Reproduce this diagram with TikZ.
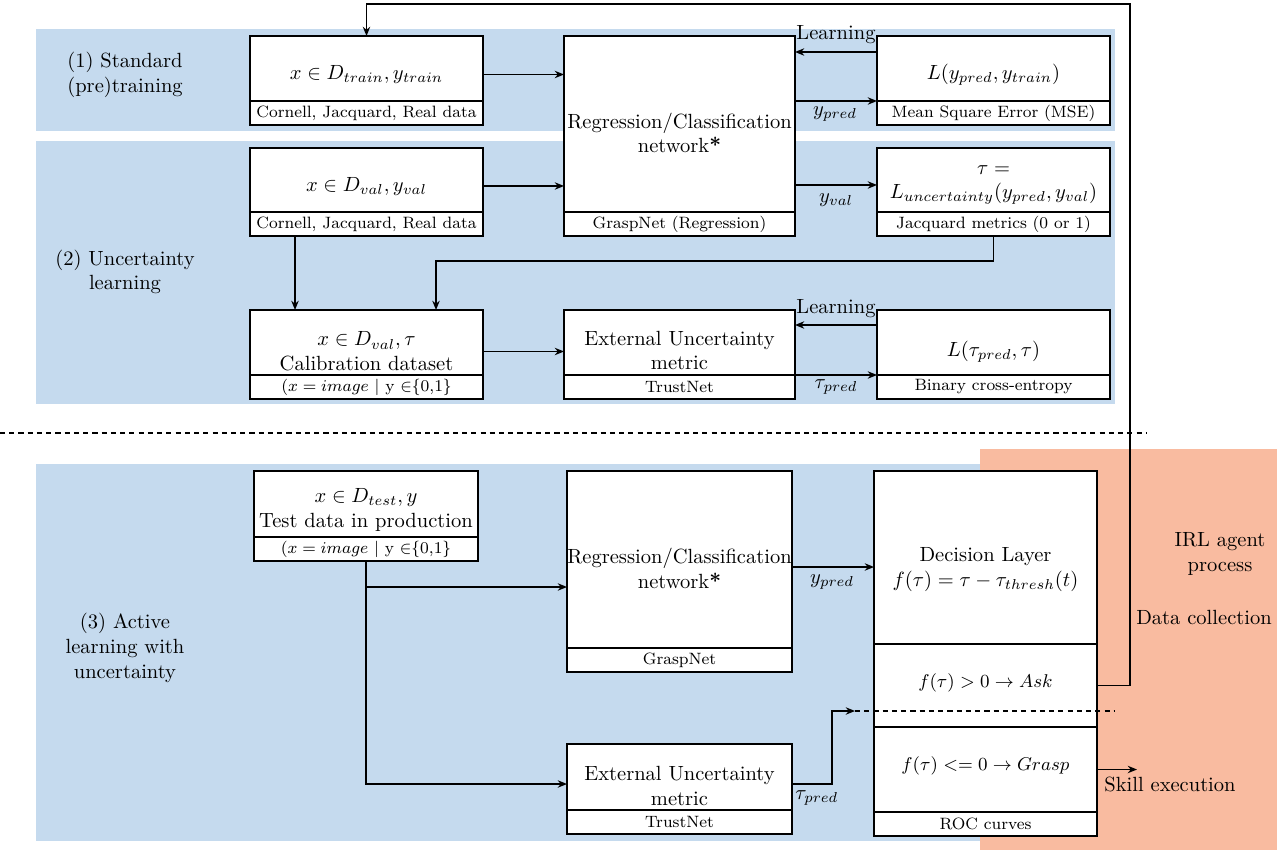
\documentclass[tikz,border=0pt]{standalone}
\usetikzlibrary{arrows.meta}
\newcommand{\U}{0.487pt}
\definecolor{bandblue}{RGB}{197,218,238}
\definecolor{irlorange}{RGB}{249,187,160}
% #1 name, #2 x, #3 y, #4 w, #5 htop, #6 hbot, #7 main text, #8 sub text, #9 text shift (px)
\newcommand{\pbox}[9]{%
  \node[part, minimum width=#4*\U, minimum height=#5*\U] (#1) at (#2,#3) {};
  \node[txt] (#1t) at ([yshift=-#9*\U]#1.center) {#7};
  \node[part, font=\footnotesize, minimum width=#4*\U, minimum height=#6*\U, anchor=north] (#1s) at (#1.south) {#8};
}
\begin{document}
\begin{tikzpicture}[x=0.487pt,y=-0.487pt,
  part/.style={draw, fill=white, line width=0.8pt, inner sep=0pt, outer sep=0pt, anchor=north west, align=center},
  txt/.style={align=center, inner sep=0pt},
  arr/.style={line width=0.8pt, -{Stealth[length=4.5pt,width=3.6pt]}},
  conn/.style={line width=0.8pt},
  lbl/.style={inner sep=0pt, align=center}]
\useasboundingbox (0,0) rectangle (1288,850);
% backgrounds
\fill[bandblue] (36,29) rectangle (1115,131);
\fill[bandblue] (36,141) rectangle (1115,404);
\fill[bandblue] (36,464) rectangle (1000,841);
\fill[irlorange] (980,449) rectangle (1277,850);
% separator
\draw[line width=0.8pt, dash pattern=on 2.5pt off 2pt] (0,433) -- (1147,433);
% section labels
\node[lbl] (sec1) at (125,75) {(1) Standard\\(pre)training};
\node[lbl] (sec2) at (125,272) {(2) Uncertainty\\learning};
\node[lbl] (sec3) at (125,648) {(3) Active\\learning with\\uncertainty};
\node[lbl] (irl) at (1220,554) {IRL agent\\process};
\node[lbl] (dcol) at (1204,617) {Data collection};
% boxes, stage 1 and 2
\pbox{train}{250}{36}{233}{65}{24}{$x \in D_{train}, y_{train}$}{Cornell, Jacquard, Real data}{6}
\pbox{reg1}{564}{36}{231}{176}{24}{Regression/Classification\\network\textbf{*}}{GraspNet (Regression)}{9}
\pbox{mse}{877}{36}{233}{65}{24}{$L(y_{pred}, y_{train})$}{Mean Square Error (MSE)}{6}
\pbox{val}{250}{148}{233}{64}{24}{$x \in D_{val}, y_{val}$}{Cornell, Jacquard, Real data}{6}
\pbox{jac}{877}{148}{233}{64}{24}{$\tau =$\\$L_{uncertainty}(y_{pred}, y_{val})$}{Jacquard metrics (0 or 1)}{5}
\pbox{cal}{250}{310}{233}{65}{24}{$x \in D_{val}, \tau$\\Calibration dataset}{$(x = image$ | y $\in$\{0,1\}}{9}
\pbox{ext1}{564}{310}{231}{65}{24}{External Uncertainty\\metric}{TrustNet}{8}
\pbox{bce}{877}{310}{233}{65}{24}{$L(\tau_{pred}, \tau)$}{Binary cross-entropy}{9}
% boxes, stage 3
\pbox{test}{254}{471}{224}{66}{24}{$x \in D_{test}, y$\\Test data in production}{$(x = image$ | y $\in$\{0,1\}}{6}
\pbox{reg2}{567}{471}{225}{177}{24}{Regression/Classification\\network\textbf{*}}{GraspNet}{9}
\pbox{ext2}{567}{744}{225}{66}{24}{External Uncertainty\\metric}{TrustNet}{9}
% decision layer
\node[part, minimum width=223*\U, minimum height=173*\U] (dec) at (874,471) {};
\node[txt] (dect) at ([yshift=-12*\U]dec.center) {Decision Layer\\$f(\tau) = \tau - \tau_{thresh}(t)$};
\node[part, anchor=north, minimum width=223*\U, minimum height=83*\U] (ask) at (dec.south) {};
\node[txt, font=\small] (askt) at ([yshift=3*\U]ask.center) {$f(\tau) > 0 \rightarrow Ask$};
\node[part, anchor=north, minimum width=223*\U, minimum height=85*\U] (grasp) at (ask.south) {};
\node[txt, font=\small] (graspt) at ([yshift=4*\U]grasp.center) {$f(\tau) <= 0 \rightarrow Grasp$};
\node[part, anchor=north, font=\footnotesize, minimum width=223*\U, minimum height=24*\U] (roc) at (grasp.south) {ROC curves};
% stage 1 connectors
\draw[arr] (train.east |- traint) -- (reg1.west |- traint);
\draw[arr] (reg1.east |- mse.south) -- (mse.south west);
\coordinate (l1) at ([yshift=-16*\U]mse.north west);
\draw[arr] (l1) -- (l1 -| reg1.east);
\node[lbl] (learn1) at (836,35) {Learning};
\node[lbl] (ypred1) at (835,114) {$y_{pred}$};
% stage 2 connectors
\draw[arr] (val.east |- valt) -- (reg1.west |- valt);
\draw[arr] (reg1.east |- jact) -- (jac.west |- jact);
\node[lbl] (yval) at (836,200) {$y_{val}$};
\draw[arr] ([xshift=-71.5*\U]vals.south) -- ([xshift=-71.5*\U]cal.north);
\draw[arr] (jacs.south) -- ++(0,25) -| ([xshift=69.5*\U]cal.north);
\draw[arr] (cal.east |- calt) -- (ext1.west |- calt);
\draw[arr] (ext1.east |- bce.south) -- (bce.south west);
\coordinate (l2) at ([yshift=-15*\U]bce.north west);
\draw[arr] (l2) -- (l2 -| ext1.east);
\node[lbl] (learn2) at (836,309) {Learning};
\node[lbl] (tpred1) at (836,387) {$\tau_{pred}$};
% stage 3 connectors
\coordinate (e2in) at ([yshift=-40*\U]ext2.north west);
\coordinate (r2in) at ([yshift=-116*\U]reg2.north west);
\draw[arr] (tests.south) |- (e2in);
\draw[arr] (tests.south |- r2in) -- (r2in);
\coordinate (r2out) at ([yshift=-96*\U]reg2.north east);
\draw[arr] (r2out) -- (r2out -| dec.west);
\node[lbl] (ypred2) at (832,582) {$y_{pred}$};
\coordinate (e2out) at ([yshift=-40*\U]ext2.north east);
\coordinate (dstart) at ([xshift=-19*\U, yshift=16*\U]ask.south west);
\coordinate (dend) at ([xshift=18*\U, yshift=16*\U]ask.south east);
\draw[arr] (e2out) -- ++(40,0) |- (dstart);
\draw[line width=0.8pt, dash pattern=on 2.5pt off 2pt] (dstart) -- (dend);
\node[lbl, anchor=west] (tpred2) at (795,798) {$\tau_{pred}$};
% loop back and skill execution
\coordinate (looptop) at (1130,4);
\draw[arr] (ask.east) -| (looptop) -| (train.north);
\draw[arr] (grasp.east) -- ++(40,0);
\node[lbl, anchor=west] (skill) at (1104,784) {Skill execution};
\end{tikzpicture}
\end{document}
